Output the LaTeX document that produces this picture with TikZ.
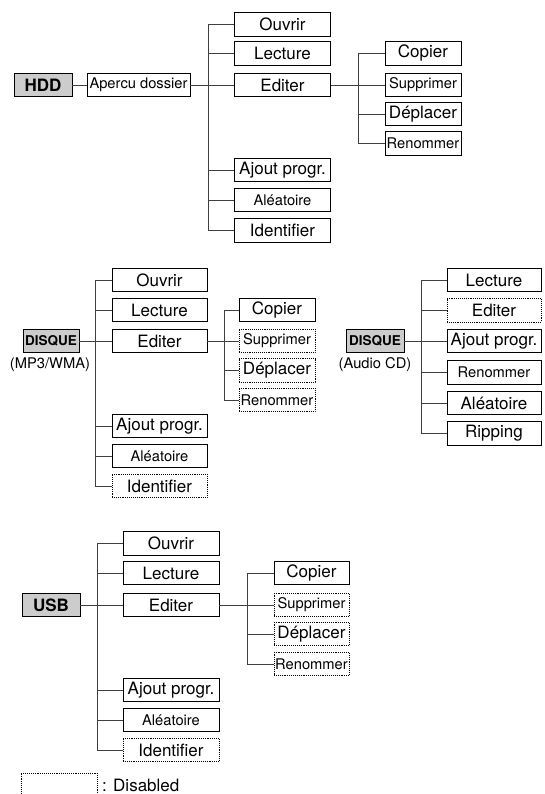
\documentclass[tikz,border=0pt]{standalone}
\usepackage{fontspec}
\setmainfont{TeX Gyre Heros}
\usetikzlibrary{positioning}
\usetikzlibrary{calc}

\newcommand\bigtxt{\fontsize{17}{19}\selectfont}
\newcommand\smtxt{\fontsize{14.7}{16}\selectfont}
\newcommand\rtxt{\fontsize{13.5}{15}\selectfont}

\tikzset{
  menubox/.style={draw, line width=0.9pt, minimum width=96pt, minimum height=23.5pt, inner sep=0pt},
  offbox/.style={menubox, densely dotted},
  subbox/.style={menubox, minimum width=76pt},
  suboff/.style={subbox, densely dotted},
  rootbox/.style={menubox, fill=black!20, minimum width=58pt, font=\bfseries},
  link/.style={line width=0.9pt, black!75},
}

\begin{document}
\begin{tikzpicture}[x=1pt, y=-1pt]
  \useasboundingbox (0,0) rectangle (544,794);

  % HDD
  \node[rootbox] (hdd) at (43,85) {\bigtxt HDD};
  \node[menubox, minimum width=103pt] (apercu) at (138.5,85) {\smtxt Apercu dossier};
  \foreach \y/\txt/\name/\fnt in {24.5/Ouvrir/hOuv/\bigtxt, 53.5/Lecture/hLec/\bigtxt, 85/Editer/hEdi/\bigtxt,
      170/Ajout progr./hAjo/\bigtxt, 200/Aléatoire/hAle/\smtxt, 230.5/Identifier/hIde/\bigtxt}{
    \node[menubox] (\name) at (282.5,\y) {\fnt \txt};
  }
  \foreach \y/\txt/\name/\fnt in {53.5/Copier/hCop/\bigtxt, 85/Supprimer/hSup/\smtxt,
      114/Déplacer/hDep/\bigtxt, 143.5/Renommer/hRen/\smtxt}{
    \node[subbox] (\name) at (423,\y) {\fnt \txt};
  }
  \coordinate (hT) at (208,24.5);
  \coordinate (hS) at (358,53.5);
  \draw[link] (hdd) -- (apercu);
  \draw[link] (apercu) -- (hEdi);
  \draw[link] (hT) -- (hT |- hIde.west);
  \foreach \name in {hOuv,hLec,hAjo,hAle,hIde}
    \draw[link] (hT |- \name.west) -- (\name.west);
  \draw[link] (hEdi) -- (hSup);
  \draw[link] (hS) -- (hS |- hRen.west);
  \foreach \name in {hCop,hDep,hRen}
    \draw[link] (hS |- \name.west) -- (\name.west);

  % DISQUE (MP3/WMA)
  \node[rootbox, minimum width=56pt] (mRoot) at (51,341) {\rtxt DISQUE};
  \node (mLbl) at (50,365) {\smtxt (MP3/WMA)};
  \foreach \y/\txt/\name/\fnt/\sty in {280/Ouvrir/mOuv/\bigtxt/menubox, 310/Lecture/mLec/\bigtxt/menubox,
      341/Editer/mEdi/\bigtxt/menubox, 426/Ajout progr./mAjo/\bigtxt/menubox,
      456/Aléatoire/mAle/\smtxt/menubox, 486/Identifier/mIde/\bigtxt/offbox}{
    \node[\sty, minimum width=95pt] (\name) at (159.5,\y) {\fnt \txt};
  }
  \foreach \y/\txt/\name/\fnt/\sty in {310/Copier/mCop/\bigtxt/subbox, 341/Supprimer/mSup/\smtxt/suboff,
      370.5/Déplacer/mDep/\bigtxt/suboff, 400/Renommer/mRen/\smtxt/suboff}{
    \node[\sty] (\name) at (277,\y) {\fnt \txt};
  }
  \coordinate (mT) at (95,280);
  \coordinate (mS) at (224,310);
  \draw[link] (mRoot) -- (mEdi);
  \draw[link] (mT) -- (mT |- mIde.west);
  \foreach \name in {mOuv,mLec,mAjo,mAle,mIde}
    \draw[link] (mT |- \name.west) -- (\name.west);
  \draw[link] (mEdi) -- (mSup);
  \draw[link] (mS) -- (mS |- mRen.west);
  \foreach \name in {mCop,mDep,mRen}
    \draw[link] (mS |- \name.west) -- (\name.west);

  % DISQUE (Audio CD)
  \node[rootbox] (cRoot) at (375,341) {\rtxt DISQUE};
  \node (cLbl) at (375,365) {\smtxt (Audio CD)};
  \foreach \y/\txt/\name/\fnt/\sty in {280/Lecture/cLec/\bigtxt/menubox, 310.5/Editer/cEdi/\bigtxt/offbox,
      341/Ajout progr./cAjo/\bigtxt/menubox, 372.5/Renommer/cRen/\smtxt/menubox,
      403/Aléatoire/cAle/\bigtxt/menubox, 433.5/Ripping/cRip/\bigtxt/menubox}{
    \node[\sty, minimum width=94pt] (\name) at (494,\y) {\fnt \txt};
  }
  \coordinate (cT) at (421,280);
  \draw[link] (cRoot) -- (cAjo);
  \draw[link] (cT) -- (cT |- cRip.west);
  \foreach \name in {cLec,cEdi,cRen,cAle,cRip}
    \draw[link] (cT |- \name.west) -- (\name.west);

  % USB
  \node[rootbox] (usb) at (51,605) {\bigtxt USB};
  \foreach \y/\txt/\name/\fnt/\sty in {543.5/Ouvrir/uOuv/\bigtxt/menubox, 573/Lecture/uLec/\bigtxt/menubox,
      605/Editer/uEdi/\bigtxt/menubox, 690/Ajout progr./uAjo/\bigtxt/menubox,
      720/Aléatoire/uAle/\smtxt/menubox, 750/Identifier/uIde/\bigtxt/offbox}{
    \node[\sty] (\name) at (171,\y) {\fnt \txt};
  }
  \foreach \y/\txt/\name/\fnt/\sty in {573/Copier/uCop/\bigtxt/subbox, 605/Supprimer/uSup/\smtxt/suboff,
      634/Déplacer/uDep/\bigtxt/suboff, 664/Renommer/uRen/\smtxt/suboff}{
    \node[\sty, minimum width=75pt] (\name) at (311.5,\y) {\fnt \txt};
  }
  \coordinate (uT) at (97,543.5);
  \coordinate (uS) at (247,573);
  \draw[link] (usb) -- (uEdi);
  \draw[link] (uT) -- (uT |- uIde.west);
  \foreach \name in {uOuv,uLec,uAjo,uAle,uIde}
    \draw[link] (uT |- \name.west) -- (\name.west);
  \draw[link] (uEdi) -- (uSup);
  \draw[link] (uS) -- (uS |- uRen.west);
  \foreach \name in {uCop,uDep,uRen}
    \draw[link] (uS |- \name.west) -- (\name.west);

  % legend
  \node[offbox, minimum width=76pt, minimum height=24pt] (legbox) at (59,785) {};
  \node[anchor=west, inner sep=0pt] (legtxt) at (102,785) {\bigtxt : Disabled};
\end{tikzpicture}
\end{document}
